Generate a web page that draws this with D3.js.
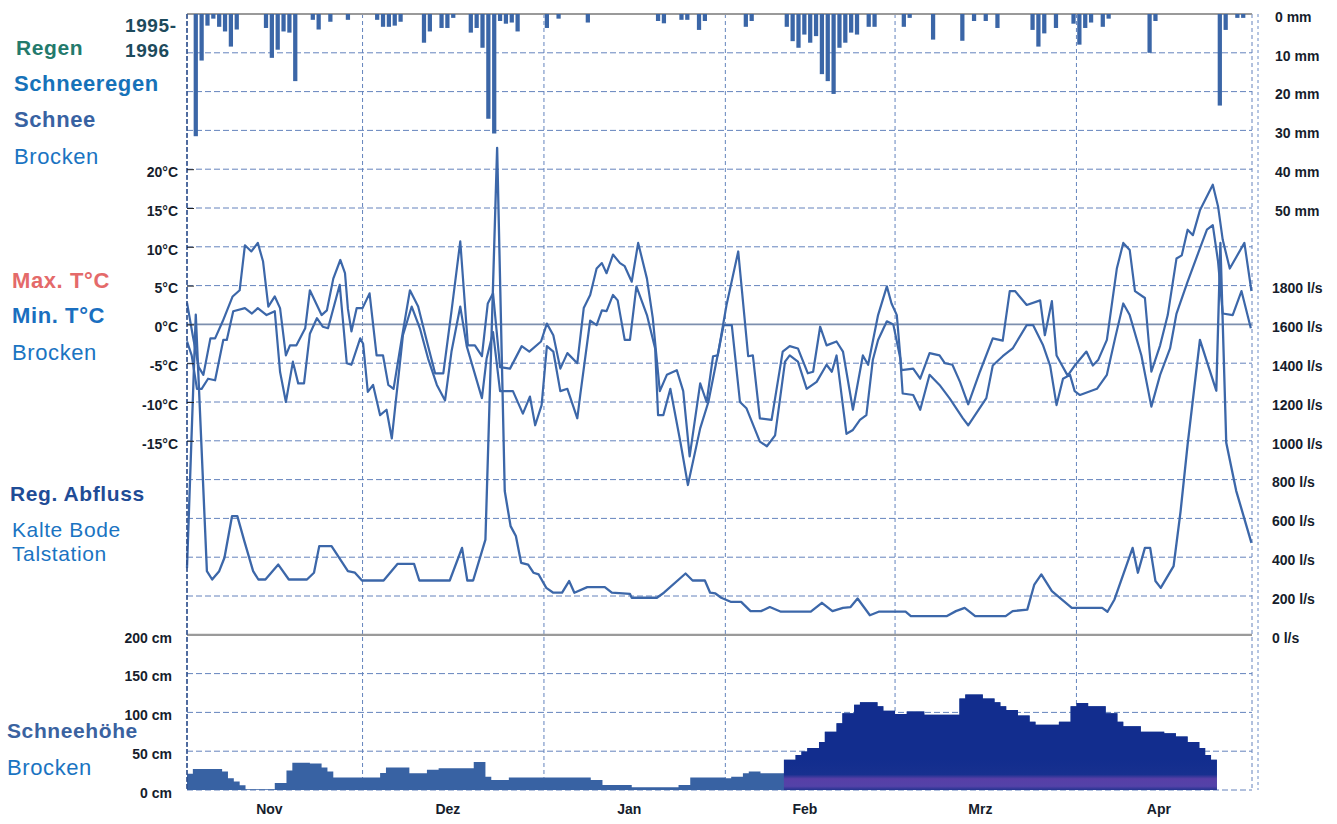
<!DOCTYPE html>
<html>
<head>
<meta charset="utf-8">
<script src="https://cdn.jsdelivr.net/npm/d3@7"></script>
<style>
body { margin: 0; background: #fff; }
svg { font-family: "Liberation Sans", Arial, sans-serif; }
</style>
</head>
<body>
<svg id="chart" width="1337" height="824"></svg>
<script>
// days counted from 1 Nov 1995
var precipDay = [1, 2, 3, 4, 5, 6, 7, 8, 13, 14, 15, 16, 17, 18, 21, 22, 24, 27, 32, 33, 34, 35, 36, 40, 41, 43, 44, 45,
  48, 49, 50, 51, 52, 53, 54, 55, 56, 61, 63, 68, 80, 81, 84, 85, 87, 88, 95, 96, 102, 103, 104, 105, 106, 107, 108,
  109, 110, 111, 112, 113, 114, 116, 117, 122, 123, 127, 132, 134, 136, 138, 144, 145, 146, 148, 151, 152, 153, 154,
  156, 157, 164, 165, 176, 177, 179, 180];
var precipMm = [31.5, 12, 3, 1.2, 3.3, 4.5, 8.4, 4, 3.6, 11.3, 9.2, 4.5, 4.8, 17.3, 1.5, 4, 2, 1.5, 1.5, 3.3, 3.3, 3, 2,
  7.4, 4.5, 3.6, 3.6, 1, 4.8, 3.6, 8.7, 27, 30.8, 1.8, 2.5, 2.2, 4.5, 3.6, 1.2, 2.2, 1.8, 2.4, 1.5, 1.5, 4.1, 1.8, 3.3,
  1.8, 3.3, 7, 8.7, 5.3, 7.4, 5.7, 15.5, 17.3, 20.6, 8.7, 7.4, 4.8, 5.3, 3.3, 3.3, 3.3, 1, 6.6, 6.9, 1.8, 1.8, 3.6,
  4.1, 8.4, 5, 3.6, 2.5, 7.9, 3.6, 2.2, 3.3, 1.2, 10, 1.8, 23.6, 4.1, 1, 1];

var tmaxDay = [0, 1, 2, 2.8, 4, 4.8, 6.1, 7.8, 9, 9.9, 11, 12.1, 13, 13.9, 15, 15.9, 16.9, 17.6, 18.7, 20.2, 21, 23,
  23.9, 25, 26.2, 27, 27.5, 28.1, 29, 30, 31.2, 32.4, 33.5, 34.4, 35.3, 36.7, 38.1, 39.5, 41, 42.4, 43.8, 45.2, 46.7,
  48, 49.2, 50.4, 51.4, 52.3, 53.5, 55.2, 57.2, 58.5, 60.5, 61.5, 62.6, 63.8, 65, 66.7, 67.8, 68.9, 70, 70.9, 71.7,
  72.8, 74, 74.8, 76, 77.1, 78.6, 79.6, 80.8, 82, 83.7, 84.8, 85.9, 87.7, 88.8, 89.9, 90.7, 92.2, 94.2, 95.9, 96.7,
  97.9, 99.9, 101.8, 103, 104.4, 106.1, 107, 108.2, 109.3, 111, 112.1, 113.8, 115.5, 116.4, 118.1, 119.6, 120.4,
  121.3, 122.1, 124.1, 125.3, 126.9, 128.6, 129.5, 130.8, 132.1, 133.5, 135.5, 137.7, 139.4, 140.6, 141.5, 143.5,
  145.8, 146.6, 147.8, 148.6, 150.5, 151.7, 153.7, 154.8, 155.7, 157.2, 158.9, 160, 161.1, 162, 163.7, 164.8, 166.3,
  167.6, 169.1, 170, 171, 171.9, 173.1, 175.3, 176.2, 177, 178.2, 180.7, 181.9];
var tmaxVal = [2.8, -1.5, -5.5, -6.5, -1.8, -1.8, 0.4, 3.6, 4.4, 10.2, 9.4, 10.5, 8.1, 2.3, 3.6, 2.1, -4, -2.7, -2.7,
  -0.5, 4.4, 1.2, 1.8, 5.9, 8.3, 6.6, 2, -0.9, 2.1, 2.1, 4, -4, -4, -7.8, -8.3, -1.8, 4.4, 2.3, -2.2, -6.3, -6.3, 1.7,
  10.7, -2.7, -2.7, -4.1, 2.7, 4, -5.5, -5.7, -2.8, -3.5, -2.2, 0.1, -1.4, -5.7, -3.7, -5, 2.1, 3.8, 7.2, 7.9, 6.6, 9,
  7.9, 7.5, 5.5, 10.5, 5.9, 0.8, -8.6, -6.5, -5.9, -8.6, -17, -7.6, -10, -4.1, -4, 2.5, 9.4, -4.1, -4, -12.1, -12.3,
  -3.5, -2.8, -3.1, -6.3, -6.1, -0.3, -2.7, -2.2, -3.5, -11, -4, -5.2, 1.2, 4.9, 2.7, 1.2, -5.9, -5.7, -7, -3.7, -4,
  -5, -5.2, -7.4, -10.3, -6.1, -1.8, -2.1, 4.3, 4.3, 2.5, 3.1, -1.4, 3, -4, -6.6, -5.3, -3.5, -5.3, -4.6, -2, 7.2,
  10.5, 9.6, 4.3, 3.4, -6.1, -2.7, 1.2, 8.5, 8.9, 12.2, 11.5, 14.7, 18, 15.2, 10.9, 7.2, 10.5, 4.3];

var tminDay = [0, 0.8, 1.7, 2.5, 3.6, 4.8, 6.2, 6.8, 7.9, 9.9, 11.1, 12.1, 13.6, 15, 15.9, 16.9, 18.1, 19, 20, 21,
  22.2, 23.2, 24.1, 26.1, 27.3, 28.1, 29.6, 30.1, 30.9, 31.8, 33, 34.1, 35, 36.9, 38.4, 39.8, 41.2, 42.7, 44.1, 45.2,
  46.7, 47.8, 50.4, 51.2, 52.3, 53.5, 55.7, 57.4, 58.6, 59.5, 60.6, 61.5, 62.6, 63.8, 65, 66.7, 67.2, 68.9, 70, 70.9,
  71.7, 72.8, 73.6, 74.8, 75.7, 76.8, 78.6, 80, 80.5, 81.4, 82.6, 84.3, 85.6, 87.7, 89.1, 91.7, 93.1, 94.5, 95.6,
  97.9, 99.1, 100.5, 102.2, 103, 104.4, 105.9, 107.6, 109.3, 110.2, 111, 112.7, 113.8, 115, 116.1, 117.2, 118.1,
  119.6, 120.7, 121.9, 122.3, 124.1, 125.3, 126.9, 128.6, 130.3, 132.6, 133.5, 134.3, 136.6, 137.7, 139.4, 141.1,
  143.5, 144.6, 146.3, 147.5, 148.6, 149.7, 150.9, 151.7, 152.6, 155.5, 157.2, 158.6, 160, 161.1, 163.1, 164.8,
  166.3, 168, 169.1, 171, 173.1, 174.3, 175.3, 176.2, 177, 178.7, 180.2, 181.8];
var tminVal = [-2.2, -4, -8.3, -8.3, -7, -7.2, -2, -2, 1.7, 2.1, 1.4, 2.1, 1.2, 1.7, -6.1, -10, -4.8, -7.6, -7.6, -1.2,
  0.8, -0.3, -0.5, 5.1, -5, -5.2, -1.8, -2.5, -8.7, -7.8, -11.7, -11, -14.7, -1.4, 2.3, -0.5, -4.4, -7.8, -9.8, -3.5,
  2.3, -2.8, -9.5, -4.4, -1, -8.6, -8.6, -11.5, -9.3, -13, -10.4, -2.8, -3.5, -8.6, -8.3, -12.1, -9.1, 0.5, -0.1, 1.8,
  1.7, 3.8, 3.1, -2, -2, 4.9, 1.2, -3.1, -11.7, -11.7, -8.3, -15.1, -20.7, -13.4, -10, -0.1, -0.1, -10, -10.8, -15.1,
  -15.7, -14.3, -4.8, -4, -4.8, -8.3, -7.4, -5.2, -6.1, -4, -14.1, -13.6, -12.3, -11.7, -4.6, -2, 0.4, 0, -4.4, -8.9,
  -9.1, -11, -6.5, -7.8, -9.5, -12.1, -13, -12.1, -9.5, -5.3, -4.1, -3.1, -0.1, -0.1, -2.7, -5.3, -10.4, -7, -6.5,
  -8.6, -9.1, -8.3, -6.5, -1.8, 2.7, 1.2, -4, -10.6, -6.5, -3.1, 1.4, 5.5, 9.8, 12.2, 12.8, 8.1, 1.4, 1.2, 4.3, -0.5];

var flowDay = [0, 1.5, 3.4, 4.3, 5.5, 6.4, 7.7, 8.6, 9.8, 11.3, 12.2, 13.4, 15.6, 17.4, 20.5, 21.7, 22.6, 24.7, 27.5,
  28.7, 29.9, 33.6, 36, 38.8, 39.7, 44.9, 47, 47.9, 48.9, 51, 53, 54.3, 55.3, 56.2, 57.1, 58.3, 59.2, 60.1, 61.4, 62.6,
  64.1, 65.3, 66.2, 68.4, 71.4, 72.6, 75.7, 76, 80.3, 81.5, 85.2, 86.4, 88.5, 89.4, 90.3, 91.3, 92.9, 94.7, 96.3, 98.1,
  99.6, 101.5, 106.6, 108.5, 110.3, 112.1, 113.4, 114.6, 116.7, 118.2, 122.8, 123.7, 129.8, 131.4, 132.9, 134.7,
  139.9, 141.1, 143.6, 144.8, 146, 147.8, 151.2, 156.4, 157.3, 158.5, 161.6, 162.5, 163.7, 164.6, 165.5, 166.4,
  168.6, 169.8, 171, 173.1, 175.9, 176.6, 177.6, 179.3, 181, 181.9];
var flowLs = [345, 1650, 328, 285, 328, 397, 612, 612, 483, 328, 285, 285, 362, 285, 285, 320, 457, 457, 328, 320,
  280, 280, 366, 366, 280, 280, 448, 280, 280, 491, 2510, 741, 560, 509, 371, 362, 320, 311, 242, 217, 217, 277, 217,
  246, 246, 217, 211, 191, 191, 217, 316, 280, 280, 217, 213, 191, 170, 170, 122, 122, 143, 119, 119, 165, 122, 139,
  143, 187, 101, 119, 119, 96, 96, 122, 139, 96, 96, 122, 130, 259, 311, 225, 139, 139, 119, 182, 448, 320, 448, 448,
  277, 242, 354, 638, 981, 1520, 1258, 2020, 990, 742, 567, 474];

var snowDay = [0, 1, 6, 7, 8, 9, 10, 15, 17, 18, 21, 23, 24, 25, 33, 34, 38, 41, 43, 49, 51, 52, 55, 69, 71, 76, 84,
  86, 92, 93, 95, 96, 98, 102, 104, 105, 106, 108, 109, 111, 112, 114, 115, 118, 119, 121, 123, 126, 132, 133, 136,
  138, 139, 140, 142, 144, 145, 149, 151, 152, 154, 157, 159, 160, 163, 167, 169, 171, 173, 174, 175, 176];
var snowCm = [21, 27, 24, 15, 11, 6, 1, 9, 25, 35, 34, 29, 24, 16, 22, 29, 21.5, 26, 28, 36, 17, 13, 16, 13, 6.5, 3.5,
  6.5, 16, 15, 17, 21.5, 24, 21.5, 39, 45, 49.5, 54, 62, 75, 86, 99, 110, 113, 108, 102, 98, 101, 97, 118, 123, 118,
  113, 108, 103, 96, 88, 84, 88, 108, 112, 108, 99, 88, 82, 75, 73, 69, 62, 54, 45, 39, 0];
var snowDarkFrom = 102; // the scan shows the later snow pack in a darker blue

var monthLabels = ["Nov", "Dez", "Jan", "Feb", "Mrz", "Apr"];
var precipTicks = [0, 10, 20, 30, 40, 50];
var tempTicks = [20, 15, 10, 5, 0, -5, -10, -15];
var flowTicks = [0, 200, 400, 600, 800, 1000, 1200, 1400, 1600, 1800];
var snowTicks = [0, 50, 100, 150, 200];

var svg = d3.select("#chart");
var start = Date.UTC(1995, 10, 1);
var dayDate = function(d) { return new Date(start + d * 864e5); };
var step = 38.8, topY = 14; // all panels share one grid step
var blue = "#3c67a9";

var x = d3.scaleUtc().domain([new Date(start), new Date(Date.UTC(1996, 4, 1))]).range([187, 1252]);
var yPrec = d3.scaleLinear().domain([0, 50]).range([topY, topY + 5 * step]);
var yTemp = d3.scaleLinear().domain([-15, 20]).range([topY + 11 * step, topY + 4 * step]);
var yFlow = d3.scaleLinear().domain([0, 1800]).range([topY + 16 * step, topY + 7 * step]);
var ySnow = d3.scaleLinear().domain([0, 200]).range([topY + 20 * step, topY + 16 * step]);

var defs = svg.append("defs");
var grad = defs.append("linearGradient").attr("id", "snowLate").attr("gradientUnits", "userSpaceOnUse")
  .attr("x1", 0).attr("x2", 0).attr("y1", ySnow(40)).attr("y2", ySnow(0));
grad.append("stop").attr("offset", "0").attr("stop-color", "#122d8e");
grad.append("stop").attr("offset", "0.5").attr("stop-color", "#17308f");
grad.append("stop").attr("offset", "0.64").attr("stop-color", "#583fa6");
grad.append("stop").attr("offset", "0.88").attr("stop-color", "#5342a8");
grad.append("stop").attr("offset", "1").attr("stop-color", "#23338f");
defs.append("clipPath").attr("id", "lateSnow").append("rect")
  .attr("x", x(dayDate(snowDarkFrom))).attr("y", 0).attr("width", 600).attr("height", 824);

// grid
var grid = svg.append("g").attr("stroke", "#4a6fb2").attr("stroke-width", 1).attr("stroke-dasharray", "6,3")
  .attr("opacity", 0.85);
var hLines = [].concat(
  [10, 20, 30, 40, 50].map(function(d) { return yPrec(d); }),
  [10, 5, -5, -10, -15].map(function(d) { return yTemp(d); }),
  [800, 600, 400, 200].map(function(d) { return yFlow(d); }),
  [150, 100, 50, 0].map(function(d) { return ySnow(d); }));
grid.selectAll("line.h").data(hLines).enter().append("line").attr("class", "h")
  .attr("x1", 187).attr("x2", 1252).attr("y1", function(d) { return d; }).attr("y2", function(d) { return d; });
var months = d3.utcMonth.range(new Date(start), new Date(Date.UTC(1996, 4, 2)));
grid.selectAll("line.v").data(months).enter().append("line").attr("class", "v")
  .attr("stroke-dasharray", "4,3")
  .attr("x1", function(d) { return x(d); }).attr("x2", function(d) { return x(d); })
  .attr("y1", topY).attr("y2", ySnow(0));
svg.append("line").attr("x1", 1258).attr("x2", 1258).attr("y1", topY).attr("y2", ySnow(0))
  .attr("stroke", "#6d8cc4").attr("stroke-dasharray", "3,3");

// solid zero lines
svg.selectAll("line.zero").data([yPrec(0), yTemp(0), yFlow(0)]).enter().append("line").attr("class", "zero")
  .attr("x1", 187).attr("x2", 1252).attr("y1", function(d) { return d; }).attr("y2", function(d) { return d; })
  .attr("stroke", function(d, i) { return i == 1 ? "#7d8fae" : "#9a9a9a"; })
  .attr("stroke-width", function(d, i) { return i == 1 ? 1.6 : 2.2; });

// snow depth
var snowArea = d3.area().curve(d3.curveStepAfter)
  .x(function(i) { return x(dayDate(snowDay[i])); })
  .y0(ySnow(0)).y1(function(i) { return ySnow(snowCm[i]); });
var idx = d3.range(snowDay.length);
svg.append("path").attr("d", snowArea(idx)).attr("fill", "#3862a3");
svg.append("path").attr("d", snowArea(idx)).attr("fill", "url(#snowLate)").attr("clip-path", "url(#lateSnow)");

// precipitation bars hanging from the top
svg.selectAll("rect.p").data(d3.range(precipDay.length)).enter().append("rect").attr("class", "p")
  .attr("x", function(i) { return x(dayDate(precipDay[i])) + 0.8; })
  .attr("width", function(i) { return x(dayDate(precipDay[i] + 1)) - x(dayDate(precipDay[i])) - 1.6; })
  .attr("y", topY).attr("height", function(i) { return yPrec(precipMm[i]) - topY; })
  .attr("fill", "#3b66a7");

// lines
function drawLine(days, vals, y, w) {
  var line = d3.line().x(function(i) { return x(dayDate(days[i])); }).y(function(i) { return y(vals[i]); });
  svg.append("path").attr("d", line(d3.range(days.length))).attr("fill", "none").attr("stroke", blue)
    .attr("stroke-width", w).attr("stroke-linejoin", "round");
}
drawLine(flowDay, flowLs, yFlow, 2.3);
drawLine(tminDay, tminVal, yTemp, 2.2);
drawLine(tmaxDay, tmaxVal, yTemp, 2.2);

// left edge
svg.append("line").attr("x1", 187).attr("x2", 187).attr("y1", topY).attr("y2", ySnow(0))
  .attr("stroke", "#2f4f8a").attr("stroke-width", 1.5).attr("stroke-dasharray", "5,2");

// axes
function styleAxis(sel, size, weight) {
  sel.select(".domain").remove();
  sel.selectAll("text").attr("font-size", size).attr("font-weight", weight).attr("fill", "#161d2c")
    .attr("font-family", "Liberation Sans, Arial, sans-serif").attr("dy", "0.52em");
  sel.selectAll(".tick line").attr("stroke", "#222");
}
svg.append("g").attr("transform", "translate(187,0)")
  .call(d3.axisLeft(yTemp).tickValues(tempTicks).tickSize(-7).tickPadding(9)
    .tickFormat(function(d) { return d + "°C"; }))
  .call(styleAxis, 14, "bold");
svg.append("g").attr("transform", "translate(187,0)")
  .call(d3.axisLeft(ySnow).tickValues(snowTicks).tickSize(0).tickPadding(15)
    .tickFormat(function(d) { return d + " cm"; }))
  .call(styleAxis, 14, "bold");
svg.append("g").attr("transform", "translate(1252,0)")
  .call(d3.axisRight(yPrec).tickValues(precipTicks).tickSize(0).tickPadding(23)
    .tickFormat(function(d) { return d + " mm"; }))
  .call(styleAxis, 14, "bold");
svg.append("g").attr("transform", "translate(1252,0)")
  .call(d3.axisRight(yFlow).tickValues(flowTicks).tickSize(0).tickPadding(20)
    .tickFormat(function(d) { return d + " l/s"; }))
  .call(styleAxis, 14, "bold");
var mids = months.slice(0, 6).map(function(m) {
  return new Date((m.getTime() + d3.utcMonth.offset(m, 1).getTime()) / 2 - 864e5);
});
svg.append("g").attr("transform", "translate(0," + ySnow(0) + ")")
  .call(d3.axisBottom(x).tickValues(mids).tickSize(0).tickPadding(14)
    .tickFormat(function(d, i) { return monthLabels[i]; }))
  .call(styleAxis, 14, "bold")
  .selectAll("text").attr("dy", "0.71em");

// legend texts on the left
var labels = [
  ["1995-", 125, 32, 19, "bold", "#1d4a5c"], ["1996", 125, 57, 19, "bold", "#1d4a5c"],
  ["Regen", 16, 55, 21, "bold", "#237a6c"], ["Schneeregen", 14, 91, 22, "bold", "#1672b9"],
  ["Schnee", 14, 127, 22, "bold", "#3862a2"], ["Brocken", 14, 164, 22, "normal", "#1a74c2"],
  ["Max. T°C", 12, 288, 22, "bold", "#e46a6a"], ["Min. T°C", 12, 323, 22, "bold", "#1a6fc0"],
  ["Brocken", 12, 360, 22, "normal", "#1a74c2"],
  ["Reg. Abfluss", 10, 501, 21, "bold", "#1f4c96"], ["Kalte Bode", 12, 537, 21, "normal", "#1a74c2"],
  ["Talstation", 12, 561, 21, "normal", "#1a74c2"],
  ["Schneehöhe", 7, 738, 21, "bold", "#3a62a0"], ["Brocken", 7, 775, 22, "normal", "#1a74c2"]
];
svg.selectAll("text.lab").data(labels).enter().append("text").attr("class", "lab")
  .attr("x", function(d) { return d[1]; }).attr("y", function(d) { return d[2]; })
  .attr("font-size", function(d) { return d[3]; }).attr("font-weight", function(d) { return d[4]; })
  .attr("fill", function(d) { return d[5]; }).attr("letter-spacing", "0.6")
  .text(function(d) { return d[0]; });
</script>
</body>
</html>
